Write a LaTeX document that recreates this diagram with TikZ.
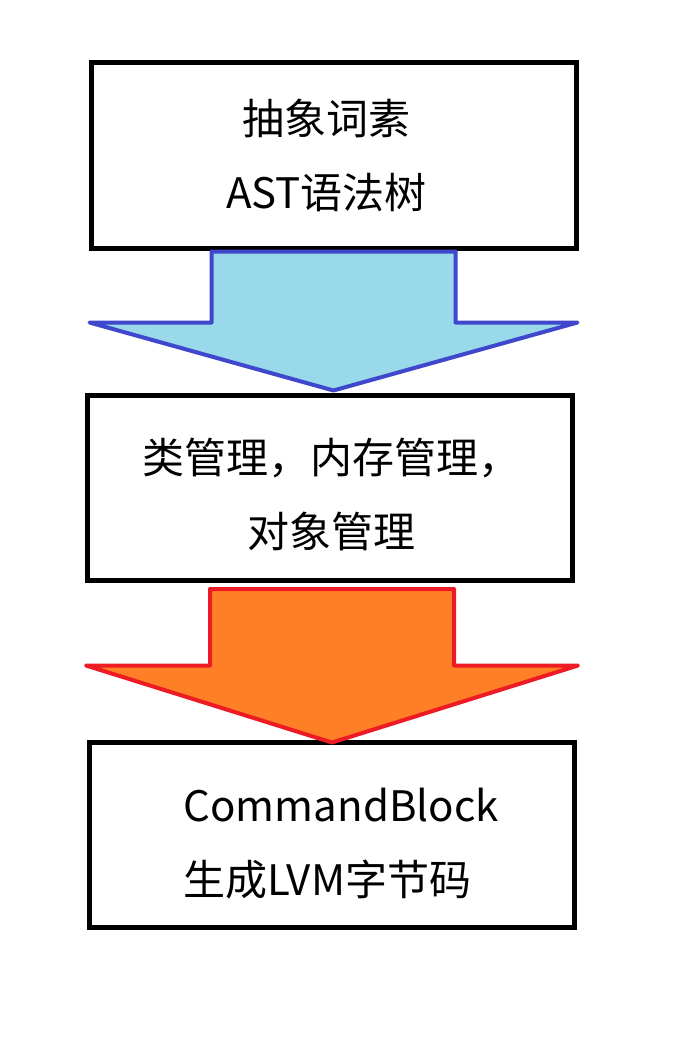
\documentclass[tikz,border=0pt]{standalone}
\usepackage{fontspec}
\newfontfamily\cjkfont{Noto Sans CJK SC}
\usetikzlibrary{positioning,calc}
\definecolor{shaftblue}{HTML}{99D9EA}
\definecolor{edgeblue}{HTML}{3F48CC}
\definecolor{shaftorange}{HTML}{FF7F27}
\definecolor{edgered}{HTML}{ED1C24}

\begin{document}
\begin{tikzpicture}[
			x=1pt, y=-1pt,
			stage/.style={draw, line width=5pt, minimum width=485pt, minimum height=185pt, inner sep=0pt},
			stagetext/.style={align=center, inner sep=0pt, font=\cjkfont\fontsize{42}{74}\selectfont},
			blockarrow/.style={line width=4pt, line join=round}
			]
			\useasboundingbox (0,0) rectangle (699,1049);
			
			\node[stage] (lexer) at (333.5,155.5) {};
			\node[stage] (memory) at (329.5,487.5) {};
			\node[stage] (codegen) at (331.5,834.5) {};
			
			\node[stagetext] (lexertext) at ($(lexer)+(-7,0)$) {抽象词素\\AST语法树};
			\node[stagetext] (memorytext) at ($(memory)+(2,7)$) {类管理，内存管理，\\对象管理};
			\node[stagetext, align=left, anchor=west] (codegentext) at ($(codegen.west)+(97,9)$) {CommandBlock\\生成LVM字节码};
			
			% parse -> runtime
			\draw[blockarrow, draw=edgeblue, fill=shaftblue] ($(lexer.south)+(-122,1)$) -- ++(0,71) -- ++(-122,0) -- ++(244,68) -- ++(244,-68) -- ++(-122,0) -- ++(0,-71) -- cycle;
			% runtime -> codegen
			\draw[blockarrow, draw=edgered, fill=shaftorange] ($(memory.south)+(-119.5,6.5)$) -- ++(0,76.5) -- ++(-124,0) -- ++(246,77) -- ++(246,-77) -- ++(-124,0) -- ++(0,-76.5) -- cycle;
		\end{tikzpicture}
\end{document}
